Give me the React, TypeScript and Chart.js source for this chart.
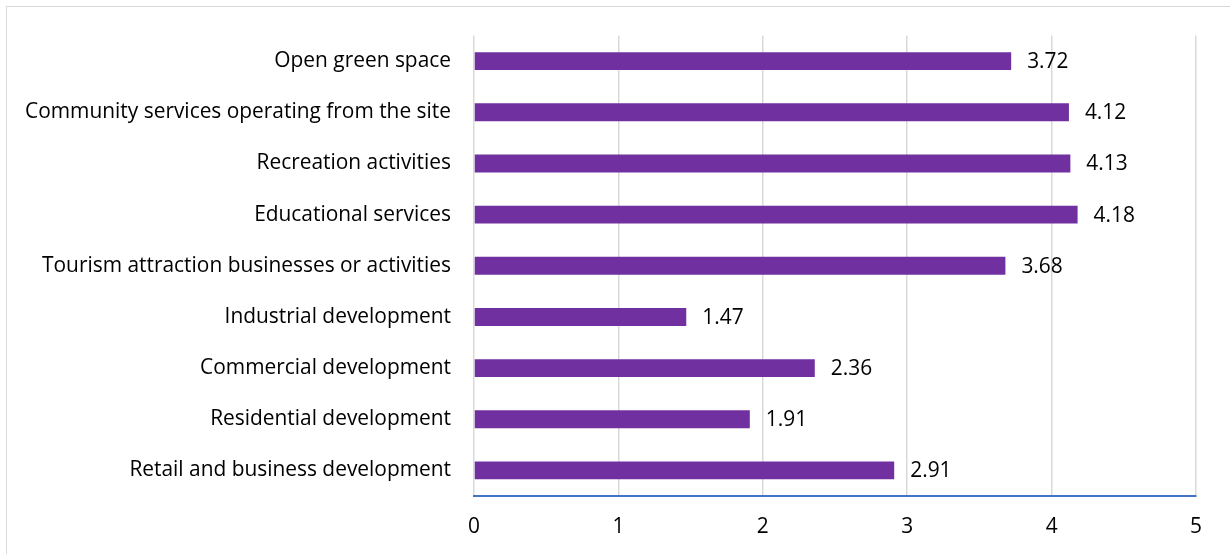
import React, { useEffect, useRef } from "react";
import { Chart, registerables } from "chart.js";

Chart.register(...registerables);

const categories = [
  "Open green space",
  "Community services operating from the site",
  "Recreation activities",
  "Educational services",
  "Tourism attraction businesses or activities",
  "Industrial development",
  "Commercial development",
  "Residential development",
  "Retail and business development",
];
const values = [3.72, 4.12, 4.13, 4.18, 3.68, 1.47, 2.36, 1.91, 2.91];
const xTicks = [0, 1, 2, 3, 4, 5];

const FONT = "'Open Sans', sans-serif";
const FONT_SIZE = 20.9;

const valueLabels = {
  id: "valueLabels",
  afterDatasetsDraw(chart: any) {
    const ctx = chart.ctx;
    const meta = chart.getDatasetMeta(0);
    ctx.save();
    ctx.font = `${FONT_SIZE}px ${FONT}`;
    ctx.fillStyle = "#000000";
    ctx.textAlign = "left";
    ctx.textBaseline = "middle";
    meta.data.forEach((bar: any, i: number) => {
      ctx.fillText(values[i].toFixed(2), bar.x + 16, bar.y + 1);
    });
    ctx.restore();
  },
};

export default function App() {
  const ref = useRef<HTMLCanvasElement | null>(null);
  useEffect(() => {
    document.body.style.margin = "0";
    const chart = new Chart(ref.current as HTMLCanvasElement, {
      type: "bar",
      data: {
        labels: categories,
        datasets: [
          {
            data: values,
            backgroundColor: "#7030A0",
            barPercentage: 0.35,
            categoryPercentage: 1,
          },
        ],
      },
      options: {
        indexAxis: "y",
        responsive: false,
        animation: false,
        layout: { padding: { left: 0, right: 34, top: 35, bottom: 0 } },
        plugins: { legend: { display: false }, tooltip: { enabled: false } },
        scales: {
          x: {
            min: 0,
            max: 5,
            afterBuildTicks(scale: any) {
              scale.ticks = xTicks.map((v) => ({ value: v }));
            },
            afterFit(scale: any) {
              scale.height = 58;
            },
            grid: { color: "#d9d9d9", lineWidth: 1.5, drawTicks: false },
            border: { display: true, color: "#4472C4", width: 2 },
            ticks: {
              padding: 19,
              color: "#000000",
              font: { family: FONT, size: FONT_SIZE },
            },
          },
          y: {
            afterFit(scale: any) {
              scale.width = 474;
            },
            grid: { display: false, drawTicks: false },
            border: { display: false },
            ticks: {
              padding: 23,
              color: "#000000",
              font: { family: FONT, size: FONT_SIZE },
            },
          },
        },
      },
      plugins: [valueLabels],
    });
    return () => chart.destroy();
  }, []);
  return (
    <div style={{ position: "relative", width: 1230, height: 554 }}>
      <canvas ref={ref} width={1230} height={554} style={{ display: "block" }} />
      <div
        style={{
          position: "absolute",
          left: 6,
          top: 6,
          width: 1240,
          height: 560,
          border: "1.5px solid #d9d9d9",
          pointerEvents: "none",
        }}
      />
    </div>
  );
}
